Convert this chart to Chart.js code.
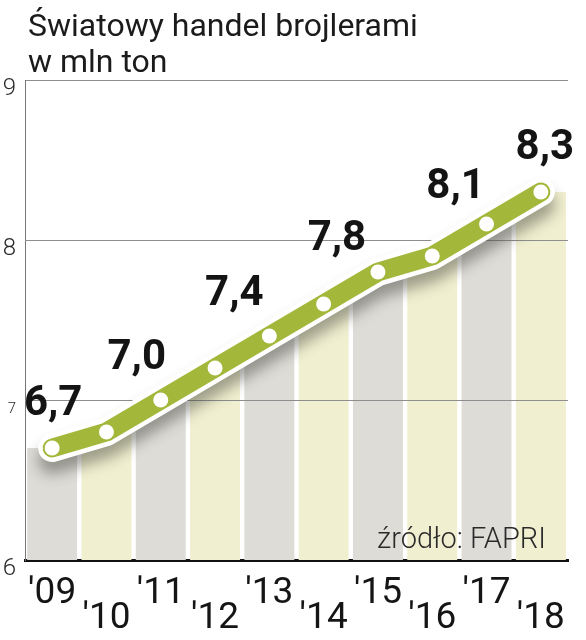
<!DOCTYPE html>
<html>
<head>
<meta charset="utf-8">
<script src="https://cdn.jsdelivr.net/npm/chart.js@4"></script>
<style>
  html, body { margin: 0; padding: 0; background: #fff; }
  #wrap { width: 586px; height: 640px; }
</style>
</head>
<body>
<div id="wrap"><canvas id="chart" width="586" height="640"></canvas></div>
<script>
// Data
const years = ["'09", "'10", "'11", "'12", "'13", "'14", "'15", "'16", "'17", "'18"];
const trade = [6.7, 6.8, 7.0, 7.2, 7.4, 7.6, 7.8, 7.9, 8.1, 8.3];
const labelledYears = ["'09", "'11", "'13", "'15", "'17", "'18"];
const yTicks = [6, 7, 8, 9];

const titleLines = ['Światowy handel brojlerami', 'w mln ton'];
const sourceText = 'źródło: FAPRI';

// alternate stripe colours
const stripeColors = years.map((y, i) => i % 2 === 0 ? '#dddcd7' : '#f0efd0');

// where each value label sits relative to its point
const labelShift = { "'09": [1, -44], "'11": [-24, -42], "'13": [-35, -42],
                     "'15": [-41, -33], "'17": [-31, -37], "'18": [4, -44] };

// gridlines need to sit over the stripes but under the line
const gridOverBars = {
  id: 'gridOverBars',
  afterDatasetDraw(chart, args) {
    if (args.index !== 0) return;
    const { ctx, chartArea, scales } = chart;
    ctx.save();
    ctx.strokeStyle = '#8e8e8e';
    ctx.lineWidth = 1;
    [7, 8].forEach(v => {
      const y = Math.round(scales.y.getPixelForValue(v)) + 0.5;
      ctx.beginPath();
      ctx.moveTo(chartArea.left, y);
      ctx.lineTo(chartArea.right, y);
      ctx.stroke();
    });
    ctx.restore();
  }
};

// soft shadow under the outlined line
const lineShadow = {
  id: 'lineShadow',
  beforeDatasetDraw(chart, args) {
    if (args.index !== 1) return;
    const ctx = chart.ctx;
    ctx.save();
    ctx.shadowColor = 'rgba(60,60,50,0.45)';
    ctx.shadowBlur = 14;
    ctx.shadowOffsetY = 12;
  },
  afterDatasetDraw(chart, args) {
    if (args.index !== 1) return;
    chart.ctx.restore();
  }
};

const textLayer = {
  id: 'textLayer',
  afterDraw(chart) {
    const { ctx } = chart;
    const meta = chart.getDatasetMeta(2);
    ctx.save();
    // title
    ctx.fillStyle = '#1b1b1b';
    ctx.font = '32px Roboto';
    ctx.textAlign = 'left';
    ctx.textBaseline = 'alphabetic';
    ctx.fillText(titleLines[0], 28, 36);
    ctx.fillText(titleLines[1], 28, 72);
    // value labels
    ctx.font = 'bold 42px Roboto';
    ctx.textAlign = 'center';
    ctx.textBaseline = 'middle';
    ctx.fillStyle = '#141414';
    years.forEach((yr, i) => {
      if (!labelledYears.includes(yr)) return;
      const pt = meta.data[i];
      const s = labelShift[yr];
      ctx.fillText(trade[i].toFixed(1).replace('.', ','), pt.x + s[0], pt.y + s[1]);
    });
    // source
    ctx.font = '300 29px Roboto';
    ctx.textAlign = 'right';
    ctx.textBaseline = 'alphabetic';
    ctx.fillStyle = '#2a2a2a';
    ctx.fillText(sourceText, 546, 548);
    ctx.restore();
  }
};

new Chart(document.getElementById('chart'), {
  type: 'bar',
  data: {
    labels: years.map((y, i) => i % 2 === 0 ? [y, ''] : ['', y]),
    datasets: [
      {
        type: 'bar',
        data: trade,
        backgroundColor: stripeColors,
        barPercentage: 0.92,
        categoryPercentage: 1,
        order: 3
      },
      {
        type: 'line',
        data: trade,
        borderColor: '#ffffff',
        borderWidth: 28,
        borderJoinStyle: 'round',
        borderCapStyle: 'round',
        pointRadius: 0,
        order: 2
      },
      {
        type: 'line',
        data: trade,
        borderColor: '#a3b83a',
        borderWidth: 19,
        borderJoinStyle: 'round',
        borderCapStyle: 'round',
        pointRadius: 7.5,
        pointBackgroundColor: '#ffffff',
        pointBorderWidth: 0,
        order: 1
      }
    ]
  },
  options: {
    responsive: false,
    animation: false,
    layout: { padding: { top: 80, right: 18, bottom: 0, left: 0 } },
    plugins: {
      legend: { display: false },
      tooltip: { enabled: false },
      title: { display: false }
    },
    scales: {
      x: {
        grid: { display: false },
        border: { color: '#111', width: 3 },
        ticks: {
          color: '#151515',
          font: { family: 'Roboto', size: 37, lineHeight: '25px' },
          padding: 13,
          maxRotation: 0,
          autoSkip: false
        },
        afterFit: (s) => { s.height = 80; }
      },
      y: {
        min: 6,
        max: 9,
        afterBuildTicks: (s) => { s.ticks = yTicks.map(v => ({ value: v })); },
        grid: { color: '#8e8e8e', drawTicks: false, lineWidth: 1 },
        border: { color: '#777', width: 1 },
        ticks: {
          color: '#2a2a2a',
          padding: 9,
          labelOffset: 9,
          font: (c) => ({ family: 'Roboto', weight: '300', size: c.tick && c.tick.value === 7 ? 15 : 24 })
        },
        afterFit: (s) => { s.width = 25; }
      }
    }
  },
  plugins: [gridOverBars, lineShadow, textLayer]
});
</script>
</body>
</html>
